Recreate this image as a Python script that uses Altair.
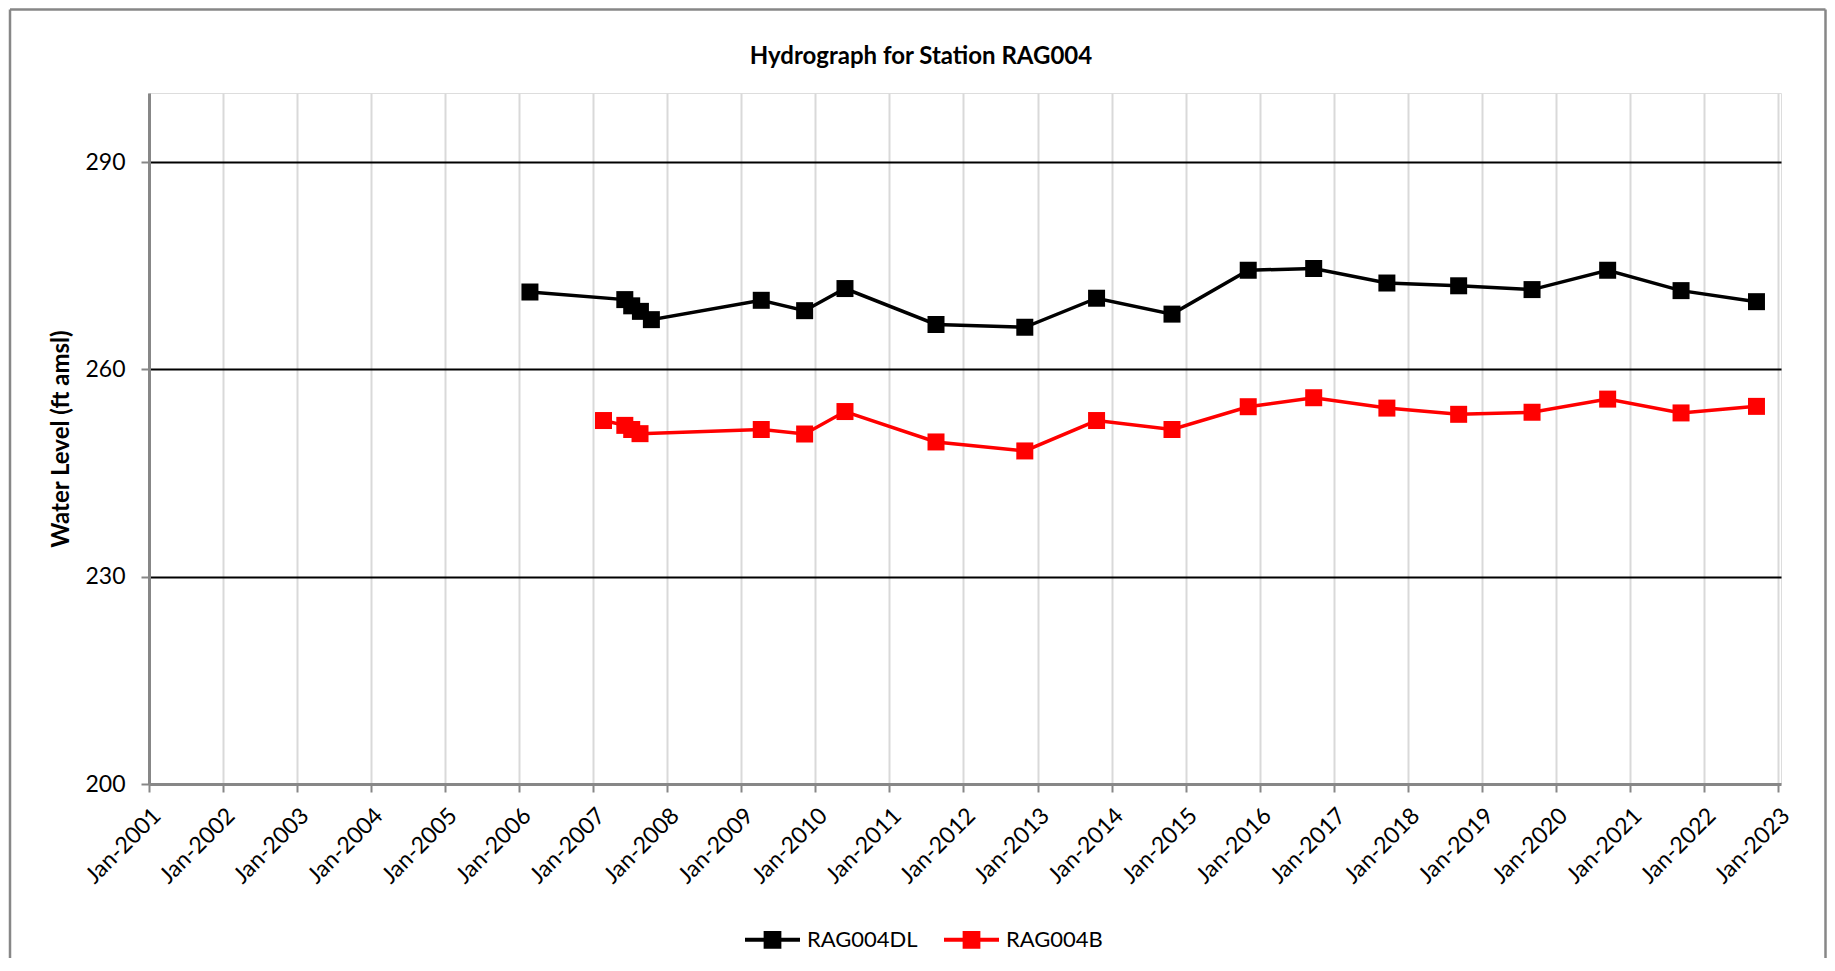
import altair as alt
import pandas as pd

# ---- data ----
dl_dates = ["2006-02-23", "2007-06-06", "2007-07-10", "2007-08-22", "2007-10-15",
            "2009-04-09", "2009-11-09", "2010-05-27", "2011-08-19", "2012-10-30",
            "2013-10-19", "2014-10-26", "2015-11-06", "2016-09-24", "2017-09-20",
            "2018-09-09", "2019-09-06", "2020-09-13", "2021-09-10", "2022-09-17"]
dl_levels = [271.2, 270.1, 269.2, 268.4, 267.2,
             270.0, 268.5, 271.7, 266.5, 266.1,
             270.3, 268.0, 274.35, 274.6, 272.5,
             272.1, 271.55, 274.35, 271.4, 269.8]

b_dates = ["2007-02-21", "2007-06-06", "2007-07-10", "2007-08-20",
           "2009-04-09", "2009-11-09", "2010-05-27", "2011-08-19", "2012-10-30",
           "2013-10-19", "2014-10-26", "2015-11-06", "2016-09-24", "2017-09-20",
           "2018-09-09", "2019-09-06", "2020-09-13", "2021-09-10", "2022-09-17"]
b_levels = [252.6, 251.9, 251.3, 250.7,
            251.3, 250.65, 253.9, 249.5, 248.2,
            252.6, 251.3, 254.6, 255.9, 254.4,
            253.5, 253.8, 255.7, 253.7, 254.65]

series_names = ["RAG004DL", "RAG004B"]
series_colors = ["#000000", "#ff0000"]
year_ticks = list(range(2001, 2024))
y_ticks = [200, 230, 260, 290]
title_text = "Hydrograph for Station RAG004"
y_title = "Water Level (ft amsl)"

df = pd.concat([
    pd.DataFrame({"date": pd.to_datetime(dl_dates), "level": dl_levels, "series": series_names[0]}),
    pd.DataFrame({"date": pd.to_datetime(b_dates), "level": b_levels, "series": series_names[1]}),
], ignore_index=True)

one = pd.DataFrame({"a": [0]})
title_df = pd.DataFrame({"t": [title_text]})

W, H = 1632, 691
FONT = "Lato"
GRAY = "#878787"

x_enc = alt.X(
    "date:T",
    scale=alt.Scale(domain=[alt.DateTime(year=2001, month=1, date=1),
                            alt.DateTime(year=2023, month=1, date=16)]),
    axis=alt.Axis(
        values=[alt.DateTime(year=y, month=1, date=1) for y in year_ticks],
        format="%b-%Y", labelAngle=-45, title=None,
        grid=True, gridColor="#d9d9d9", gridWidth=2,
        tickSize=8, tickColor=GRAY, tickWidth=2,
        domainColor=GRAY, domainWidth=3,
        labelPadding=12, labelFont=FONT, labelFontSize=23, labelColor="black",
        labelOverlap=False, labelFlush=False, labelBound=False,
    ),
)

y_enc = alt.Y(
    "level:Q",
    scale=alt.Scale(domain=[200, 300], nice=False, zero=False),
    axis=alt.Axis(
        values=y_ticks, title=y_title,
        titleFont=FONT, titleFontSize=24, titleFontWeight="bold", titleColor="black",
        titlePadding=11,
        grid=True,
        gridColor=alt.condition("datum.value === 200", alt.value("transparent"), alt.value("black")),
        gridWidth=2,
        tickSize=8, tickColor=GRAY, tickWidth=2,
        domainColor=GRAY, domainWidth=3,
        labelPadding=16, labelFont=FONT, labelFontSize=23, labelColor="black",
    ),
)

legend = alt.Legend(
    orient="none", legendX=594, legendY=817, direction="horizontal", title=None,
    symbolType="M-1,0H1M-0.25,-0.25H0.25V0.25H-0.25Z",
    symbolSize=3025, symbolStrokeWidth=4, symbolOpacity=1,
    labelFont=FONT, labelFontSize=22, labelColor="black", labelOffset=5,
    columnPadding=18, padding=0,
)

color_enc = alt.Color("series:N", scale=alt.Scale(domain=series_names, range=series_colors),
                      legend=legend)

base = alt.Chart(df).encode(x=x_enc, y=y_enc, color=color_enc)
lines = base.mark_line(strokeWidth=3.5)
points = base.mark_square(size=289, opacity=1)

left_border = alt.Chart(one).mark_rule(color=GRAY, strokeWidth=2.5).encode(
    x=alt.value(-139), y=alt.value(-83.5), y2=alt.value(865))
top_border = alt.Chart(one).mark_rule(color=GRAY, strokeWidth=2.5).encode(
    x=alt.value(-139), x2=alt.value(1676.5), y=alt.value(-83.5))
right_border = alt.Chart(one).mark_rule(color=GRAY, strokeWidth=2.5).encode(
    x=alt.value(1676.5), y=alt.value(-83.5), y2=alt.value(865))

title_mark = alt.Chart(title_df).mark_text(
    font=FONT, fontSize=24, fontWeight="bold", align="center", baseline="alphabetic",
    color="black").encode(x=alt.value(772), y=alt.value(-29), text="t:N")

chart = alt.layer(left_border, top_border, right_border, title_mark, lines, points).properties(
    width=W, height=H, padding=0
).configure_view(stroke=GRAY, strokeWidth=3).configure(background="white")

chart.save("out.html", embed_options={"renderer": "svg", "actions": False})
